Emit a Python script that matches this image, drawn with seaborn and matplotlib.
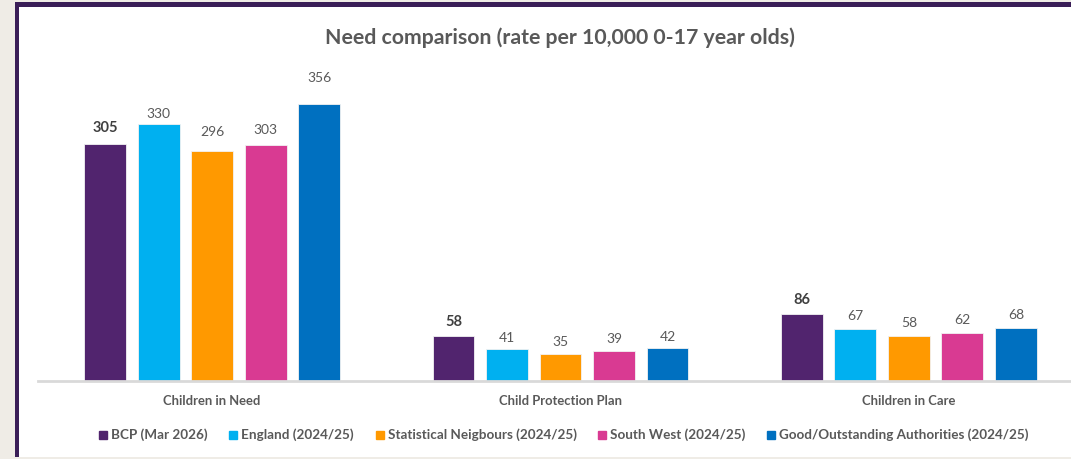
import matplotlib
matplotlib.use("Agg")
import matplotlib.pyplot as plt
import seaborn as sns
import pandas as pd
from matplotlib.patches import Rectangle
from matplotlib.lines import Line2D

categories = ["Children in Need", "Child Protection Plan", "Children in Care"]
series = ["BCP (Mar 2026)", "England (2024/25)", "Statistical Neigbours (2024/25)",
          "South West (2024/25)", "Good/Outstanding Authorities (2024/25)"]
bcp = [305, 58, 86]
england = [330, 41, 67]
stat_neighbours = [296, 35, 58]
south_west = [303, 39, 62]
good_outstanding = [356, 42, 68]
colors = ["#51246E", "#00B0F0", "#FF9900", "#D93A92", "#0070C0"]
title = "Need comparison (rate per 10,000 0-17 year olds)"
# label offsets above bar tops (points), per series x category (as in the source chart)
label_offsets = [[6, 5, 5], [3.3, 4, 5], [9, 4, 5], [6.5, 4, 5], [14.5, 4, 5]]

values = [bcp, england, stat_neighbours, south_west, good_outstanding]
rows = []
for s, vals in zip(series, values):
    for c, v in zip(categories, vals):
        rows.append({"category": c, "series": s, "value": v})
df = pd.DataFrame(rows)

sns.set_theme(style="white")
plt.rcParams["font.family"] = ["Lato", "DejaVu Sans"]

W, H = 1071, 459
fig = plt.figure(figsize=(W / 100, H / 100), dpi=100)
fig.patch.set_facecolor("#EFECE6")
fig.patches.append(Rectangle((15 / W, 2 / H), 1, (H - 4) / H, transform=fig.transFigure,
                             facecolor="#3A1E57", edgecolor="none", zorder=-3))
fig.patches.append(Rectangle((19 / W, 2 / H), 1, (H - 9) / H, transform=fig.transFigure,
                             facecolor="white", edgecolor="none", zorder=-2))

ax = fig.add_axes([38 / W, 78 / H, 1045 / W, 321 / H])
ax.set_zorder(1)
ax.set_facecolor("none")
sns.barplot(data=df, x="category", y="value", hue="series", hue_order=series,
            order=categories, palette=colors, saturation=1, width=0.768, gap=0.22,
            edgecolor="#F2F2F2", linewidth=0.6, ax=ax, legend=False)
ax.set_ylim(0, 321 / 0.7781)
ax.set_xlim(-0.5, 2.5)

grey = "#595959"
for i, cont in enumerate(ax.containers):
    for j, (bar, val) in enumerate(zip(cont.patches, cont.datavalues)):
        x = bar.get_x() + bar.get_width() / 2
        ax.annotate(f"{val:.0f}", xy=(x, bar.get_height()),
                    xytext=(0, label_offsets[i][j]), textcoords="offset points",
                    ha="center", va="bottom",
                    fontsize=10.5 if i == 0 else 10,
                    fontweight="bold" if i == 0 else "normal",
                    color="#404040" if i == 0 else grey)

for sp in ["top", "right", "left"]:
    ax.spines[sp].set_visible(False)
ax.spines["bottom"].set_color("#D9D9D9")
ax.spines["bottom"].set_linewidth(2)
ax.set_yticks([])
ax.set_xlabel("")
ax.set_ylabel("")
ax.tick_params(axis="x", length=0, pad=10, labelsize=9.4, labelcolor=grey)
for lab in ax.get_xticklabels():
    lab.set_fontweight("bold")

fig.text(560 / W, 1 - 38 / H, title, ha="center", va="center",
         fontsize=15.3, fontweight="bold", color=grey)

handles = [Line2D([], [], marker="s", linestyle="none", markersize=6,
                  markerfacecolor=c, markeredgecolor=c) for c in colors]
leg = fig.legend(handles, series, loc="center", bbox_to_anchor=(564 / W, 1 - 435 / H),
                 ncol=5, frameon=False, fontsize=9.7, handlelength=0.6,
                 handletextpad=0.3, columnspacing=1.6, labelcolor=grey)
for t in leg.get_texts():
    t.set_fontweight("bold")

fig.savefig("out.png", dpi=100)
